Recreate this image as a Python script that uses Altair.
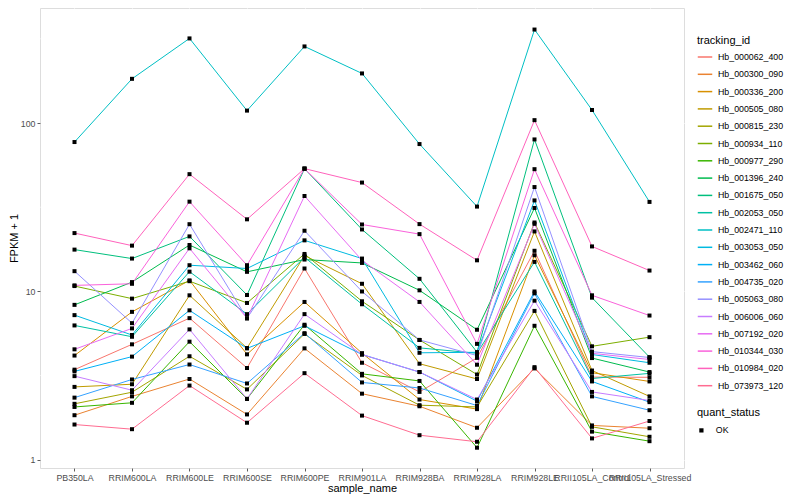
import altair as alt
import pandas as pd

samples = ["PB350LA", "RRIM600LA", "RRIM600LE", "RRIM600SE", "RRIM600PE", "RRIM901LA",
           "RRIM928BA", "RRIM928LA", "RRIM928LE", "RRII105LA_Control", "RRII105LA_Stressed"]

tracking_ids = ["Hb_000062_400", "Hb_000300_090", "Hb_000336_200", "Hb_000505_080",
                "Hb_000815_230", "Hb_000934_110", "Hb_000977_290", "Hb_001396_240",
                "Hb_001675_050", "Hb_002053_050", "Hb_002471_110", "Hb_003053_050",
                "Hb_003462_060", "Hb_004735_020", "Hb_005063_080", "Hb_006006_060",
                "Hb_007192_020", "Hb_010344_030", "Hb_010984_020", "Hb_073973_120"]

colors = ["#F8766D", "#EA8331", "#D89000", "#C09B00", "#A3A500", "#7CAE00", "#39B600",
          "#00BB4E", "#00BF7D", "#00C1A3", "#00BFC4", "#00BAE0", "#00B0F6", "#35A2FF",
          "#9590FF", "#C77CFF", "#E76BF3", "#FA62DB", "#FF62BC", "#FF6C91"]

# FPKM + 1 per sample, in the order of `samples`
hb_000062_400 = [3.43, 4.85, 6.94, 3.51, 13.68, 3.77, 2.53, 4.03, 17.43, 3.10, 3.09]
hb_000300_090 = [1.84, 2.38, 3.02, 1.86, 4.59, 2.47, 2.08, 1.55, 3.49, 1.60, 1.54]
hb_000336_200 = [4.16, 7.56, 11.63, 4.23, 8.66, 4.30, 2.28, 2.00, 16.39, 3.29, 2.92]
hb_000505_080 = [2.71, 2.81, 9.48, 4.61, 16.32, 11.10, 3.72, 3.02, 22.71, 3.39, 2.38]
hb_000815_230 = [2.15, 2.52, 4.12, 2.62, 5.59, 3.17, 2.11, 2.06, 7.66, 1.57, 1.37]
hb_000934_110 = [10.76, 9.06, 11.50, 8.54, 16.69, 8.74, 5.15, 3.21, 25.66, 4.72, 5.35]
hb_000977_290 = [2.06, 2.18, 5.03, 2.30, 6.34, 3.24, 2.94, 1.18, 6.25, 1.47, 1.29]
hb_001396_240 = [8.32, 11.36, 18.86, 13.07, 15.46, 14.76, 10.15, 5.92, 31.30, 4.02, 3.32]
hb_001675_050 = [17.71, 15.67, 21.22, 9.52, 53.60, 23.33, 11.88, 4.36, 79.90, 9.18, 4.07]
hb_002053_050 = [6.28, 5.38, 13.10, 7.33, 15.95, 8.39, 4.62, 4.29, 14.97, 3.04, 3.26]
hb_002471_110 = [77.1, 183.0, 318.0, 118.5, 285.0, 197.0, 75.0, 31.9, 359.0, 119.5, 34.0]
hb_003053_050 = [7.23, 5.51, 14.31, 13.68, 20.10, 15.67, 4.32, 4.35, 34.70, 4.22, 3.77]
hb_003462_060 = [3.35, 4.10, 7.72, 4.59, 6.25, 4.22, 3.32, 2.23, 9.99, 2.92, 2.20]
hb_004735_020 = [2.34, 3.00, 3.68, 2.84, 5.65, 2.88, 2.67, 2.10, 9.74, 2.38, 1.97]
hb_005063_080 = [13.19, 6.48, 25.07, 6.92, 22.93, 9.99, 5.15, 4.16, 41.66, 4.39, 4.05]
hb_006006_060 = [3.14, 2.59, 5.95, 2.30, 7.33, 4.22, 3.32, 2.28, 8.81, 2.53, 2.25]
hb_007192_020 = [4.53, 6.03, 18.03, 6.92, 36.87, 15.31, 8.66, 3.67, 25.20, 4.29, 3.94]
hb_010344_030 = [10.86, 11.10, 34.12, 14.31, 53.60, 24.97, 21.89, 4.88, 53.20, 9.48, 7.19]
hb_010984_020 = [22.2, 18.7, 49.7, 26.8, 53.6, 44.3, 25.1, 15.3, 104.0, 18.5, 13.3]
hb_073973_120 = [1.62, 1.52, 2.76, 1.66, 3.27, 1.83, 1.40, 1.28, 3.55, 1.34, 1.70]

series = [hb_000062_400, hb_000300_090, hb_000336_200, hb_000505_080, hb_000815_230,
          hb_000934_110, hb_000977_290, hb_001396_240, hb_001675_050, hb_002053_050,
          hb_002471_110, hb_003053_050, hb_003462_060, hb_004735_020, hb_005063_080,
          hb_006006_060, hb_007192_020, hb_010344_030, hb_010984_020, hb_073973_120]

minor_breaks = [3.1623, 31.623, 316.23]
y_ticks = [1, 10, 100]

rows = []
for tid, vals in zip(tracking_ids, series):
    for i, (s, v) in enumerate(zip(samples, vals)):
        rows.append({"tracking_id": tid, "sample_name": s, "idx": i, "value": v,
                     "quant_status": "OK"})
df = pd.DataFrame(rows)
minor_df = pd.DataFrame({"value": minor_breaks})

FONT = "Liberation Sans"

x_enc = alt.X("sample_name:N", sort=samples,
              scale=alt.Scale(type="point", domain=samples, padding=0.6),
              axis=alt.Axis(title="sample_name", grid=True, gridColor="white", gridWidth=1.1,
                            domain=False, tickColor="#333333", tickSize=3, tickWidth=0.8,
                            labelColor="#4D4D4D", labelFontSize=8.8, labelAngle=0,
                            labelOverlap=False, labelPadding=2, labelFont=FONT,
                            titleFont=FONT, titleFontSize=11, titleFontWeight="normal",
                            titleColor="black", titlePadding=1))
y_enc = alt.Y("value:Q",
              scale=alt.Scale(type="log", domain=[0.894, 482], nice=False, zero=False),
              axis=alt.Axis(title="FPKM + 1", values=y_ticks, format="d", grid=True,
                            gridColor="white", gridWidth=1.1, domain=False,
                            tickColor="#333333", tickSize=3, tickWidth=0.8,
                            labelColor="#4D4D4D", labelFontSize=8.8, labelPadding=2,
                            labelFont=FONT, titleFont=FONT, titleFontSize=11,
                            titleFontWeight="normal", titleColor="black", titlePadding=1))

minor = alt.Chart(minor_df).mark_rule(color="white", strokeWidth=0.55).encode(
    y=alt.Y("value:Q")
)

lines = alt.Chart(df).mark_line(strokeWidth=1).encode(
    x=x_enc,
    y=y_enc,
    order=alt.Order("idx:Q"),
    color=alt.Color("tracking_id:N",
                    scale=alt.Scale(domain=tracking_ids, range=colors),
                    legend=alt.Legend(title="tracking_id", orient="none", legendX=657,
                                      legendY=27, symbolType="stroke", symbolSize=210,
                                      symbolStrokeWidth=1.5, rowPadding=4.3,
                                      labelFontSize=8.8, labelFont=FONT, labelColor="black",
                                      titleFont=FONT, titleFontSize=11,
                                      titleFontWeight="normal", titlePadding=3,
                                      labelOffset=5)),
)

points = alt.Chart(df).mark_point(filled=True, size=16, color="black", opacity=1).encode(
    x=x_enc,
    y=y_enc,
    shape=alt.Shape("quant_status:N",
                    scale=alt.Scale(domain=["OK"], range=["square"]),
                    legend=alt.Legend(title="quant_status", orient="none", legendX=657,
                                      legendY=399, symbolSize=18, symbolFillColor="black",
                                      symbolStrokeColor="black", labelFontSize=8.8,
                                      labelFont=FONT, labelColor="black", titleFont=FONT,
                                      titleFontSize=11, titleFontWeight="normal",
                                      titlePadding=8, labelOffset=10)),
)

chart = alt.layer(minor, lines, points).properties(
    width=644, height=460,
    padding={"left": 32, "top": 0, "right": 104, "bottom": 30},
    autosize=alt.AutoSizeParams(type="none"),
).configure_view(fill="#EBEBEB", strokeWidth=0).configure(font=FONT)

chart.save("out.html", embed_options={"renderer": "svg", "actions": False})
